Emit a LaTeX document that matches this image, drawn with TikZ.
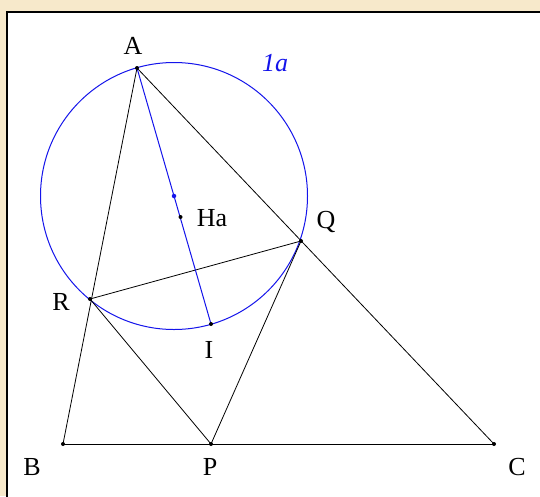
\documentclass[tikz,border=0pt]{standalone}
\usepackage{fontspec}
\setmainfont{Liberation Serif}
\definecolor{parch}{RGB}{247,233,203}
\definecolor{geoblue}{RGB}{20,20,235}
\begin{document}
\begin{tikzpicture}[x=1pt,y=-1pt,
  seg/.style={black,line width=0.8pt},
  bseg/.style={geoblue,line width=1pt},
  lbl/.style={font=\fontsize{26}{30}\selectfont,inner sep=0pt},
  dotb/.style={circle,fill=black,inner sep=0pt,minimum size=4pt},
  dotbl/.style={circle,fill=geoblue,inner sep=0pt,minimum size=4.5pt}]
\useasboundingbox (0,0) rectangle (540,496);
\fill[parch] (0,0) rectangle (540,496);
\fill[white] (7,12) rectangle (541,497);
\draw[line width=2.2pt] (7,497) -- (7,12) -- (541,12);
% points
\coordinate (A) at (137,68);
\coordinate (B) at (63,444);
\coordinate (C) at (494,444);
\coordinate (P) at (211,444);
\coordinate (Q) at (301,241);
\coordinate (R) at (90,299);
\coordinate (I) at (211,324);
\coordinate (Ha) at (180.5,217);
\coordinate (O) at (174,196);
% circle
\draw[geoblue,line width=1pt] (O) circle[radius=133.5];
% lines
\draw[seg] (A) -- (B);
\draw[seg] (A) -- (C);
\draw[seg] (B) -- (C);
\draw[seg] (R) -- (Q);
\draw[seg] (R) -- (P);
\draw[seg] (Q) -- (P);
\draw[bseg] (A) -- (I);
% dots
\foreach \p in {A,B,C,P,Q,R,I,Ha} \node[dotb] at (\p) {};
\node[dotbl] at (O) {};
% labels
\node[lbl] (lA) at (133,46) {A};
\node[lbl,text=geoblue] (l1a) at (275,63) {\itshape 1a};
\node[lbl] (lHa) at (212,218) {Ha};
\node[lbl] (lQ) at (326,222) {Q};
\node[lbl] (lR) at (61,302) {R};
\node[lbl] (lI) at (209,350) {I};
\node[lbl] (lB) at (32,467) {B};
\node[lbl] (lP) at (210,467) {P};
\node[lbl] (lC) at (517,467) {C};
\end{tikzpicture}
\end{document}
